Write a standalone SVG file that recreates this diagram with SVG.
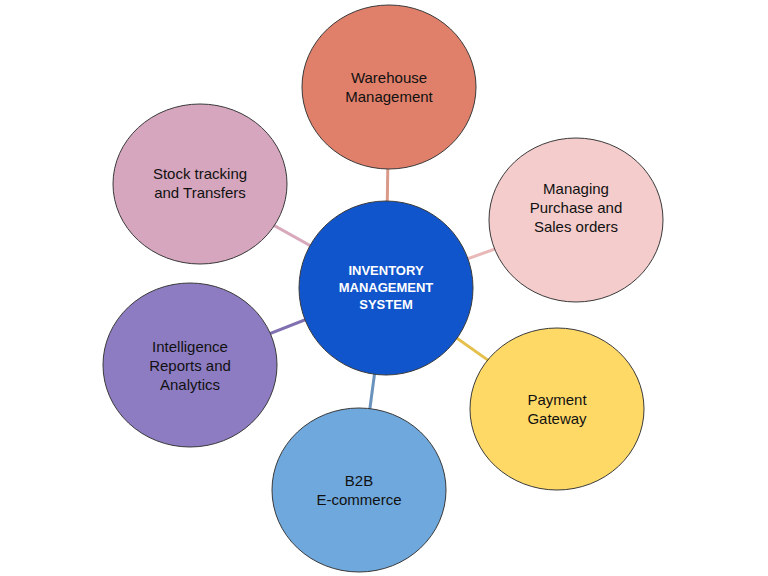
<svg xmlns="http://www.w3.org/2000/svg" width="768" height="576" viewBox="0 0 768 576">
<style>
.n{stroke:#3a3a3a;stroke-width:1}
.t{font-family:"Liberation Sans",Arial,sans-serif;font-size:15px;fill:#111;text-anchor:middle}
.c{font-family:"Liberation Sans",Arial,sans-serif;font-size:13px;font-weight:bold;fill:#fff;text-anchor:middle}
.l{stroke-width:3}
</style>
<rect width="768" height="576" fill="#fff"/>
<g id="connectors">
<line class="l" x1="386" y1="288" x2="389" y2="87" stroke="#d99a8a"/>
<line class="l" x1="386" y1="288" x2="576" y2="220" stroke="#e9b8b8"/>
<line class="l" x1="386" y1="288" x2="557" y2="409" stroke="#e6c04c"/>
<line class="l" x1="386" y1="288" x2="359" y2="490" stroke="#6a92bd"/>
<line class="l" x1="386" y1="288" x2="190" y2="365" stroke="#8070b0"/>
<line class="l" x1="386" y1="288" x2="200" y2="184" stroke="#d7a9bb"/>
</g>
<g id="warehouse"><ellipse class="n" cx="389" cy="87" rx="87" ry="82" fill="#E0806B"/><text class="t" x="389" y="83">Warehouse</text><text class="t" x="389" y="102">Management</text></g>
<g id="managing"><ellipse class="n" cx="576" cy="220" rx="87" ry="82" fill="#F4CCCC"/><text class="t" x="576" y="194">Managing</text><text class="t" x="576" y="213">Purchase and</text><text class="t" x="576" y="232">Sales orders</text></g>
<g id="payment"><ellipse class="n" cx="557" cy="409" rx="87" ry="81" fill="#FFD966"/><text class="t" x="557" y="405">Payment</text><text class="t" x="557" y="424">Gateway</text></g>
<g id="b2b"><ellipse class="n" cx="359" cy="490" rx="87" ry="82" fill="#6FA8DC"/><text class="t" x="359" y="486">B2B</text><text class="t" x="359" y="505">E-commerce</text></g>
<g id="intelligence"><ellipse class="n" cx="190" cy="365" rx="87" ry="82" fill="#8E7CC3"/><text class="t" x="190" y="352">Intelligence</text><text class="t" x="190" y="371">Reports and</text><text class="t" x="190" y="390">Analytics</text></g>
<g id="stock"><ellipse class="n" cx="200" cy="184" rx="87" ry="80" fill="#D5A6BD"/><text class="t" x="200" y="179">Stock tracking</text><text class="t" x="200" y="198">and Transfers</text></g>
<g id="center"><ellipse class="n" cx="386" cy="288" rx="87" ry="87" fill="#1155CC"/><text class="c" x="386" y="275">INVENTORY</text><text class="c" x="386" y="292">MANAGEMENT</text><text class="c" x="386" y="309">SYSTEM</text></g>
</svg>
